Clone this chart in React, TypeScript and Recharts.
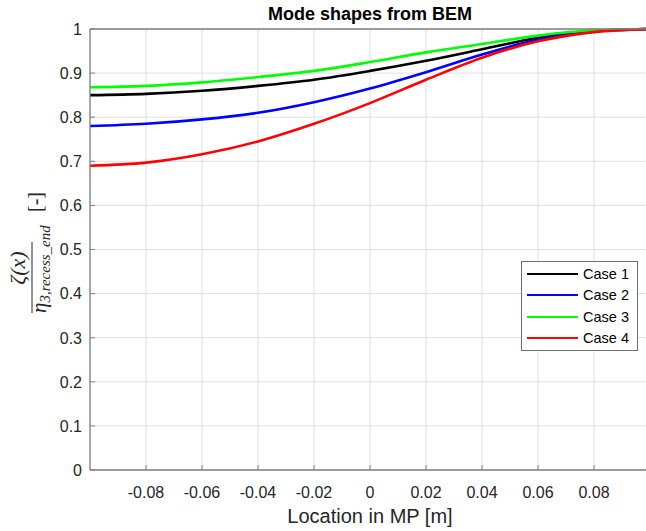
import React from 'react';
import { LineChart, Line, XAxis, YAxis, CartesianGrid, Legend } from 'recharts';

// Location along the MP [m]
const positions = [-0.1, -0.08, -0.06, -0.04, -0.02, 0, 0.02, 0.04, 0.06, 0.08, 0.1];

// Normalised mode shape per case
const case1 = [0.85, 0.853, 0.86, 0.871, 0.885, 0.905, 0.928, 0.954, 0.98, 0.996, 1.0];
const case2 = [0.78, 0.785, 0.795, 0.81, 0.834, 0.865, 0.902, 0.942, 0.976, 0.995, 1.0];
const case3 = [0.868, 0.871, 0.879, 0.891, 0.905, 0.925, 0.947, 0.966, 0.985, 0.997, 1.0];
const case4 = [0.69, 0.697, 0.716, 0.745, 0.785, 0.832, 0.885, 0.935, 0.972, 0.993, 1.0];

const xTicks = [-0.08, -0.06, -0.04, -0.02, 0, 0.02, 0.04, 0.06, 0.08];
const yTicks = [0, 0.1, 0.2, 0.3, 0.4, 0.5, 0.6, 0.7, 0.8, 0.9, 1];

const seriesKeys = ['case1', 'case2', 'case3', 'case4'];
const seriesNames = ['Case 1', 'Case 2', 'Case 3', 'Case 4'];
const seriesColors = ['#000000', '#0000ff', '#00ff00', '#ff0000'];

const data = positions.map((x, i) => ({
    x,
    case1: case1[i],
    case2: case2[i],
    case3: case3[i],
    case4: case4[i],
}));

const AXIS = '#808080';
const TEXT = '#262626';
const GRID = '#e0e0e0';
const X_GAP = 16;
const Y_GAP = 8;

const fmtX = (v: number) => (v === 0 ? '0' : v.toFixed(2));
const fmtY = (v: number) => (v === 0 || v === 1 ? String(v) : v.toFixed(1));

// bottom ticks: label outside, tick mark pointing into the plot
const BottomTick = (props: any) => {
    const { x, y, payload } = props;
    const axisY = y - X_GAP;
    return (
        <g>
            <line x1={x} x2={x} y1={axisY} y2={axisY - 5} stroke={AXIS} />
            <text x={x} y={axisY + 27.5} textAnchor="middle" fontSize={16} fill={TEXT}>
                {fmtX(payload.value)}
            </text>
        </g>
    );
};

const LeftTick = (props: any) => {
    const { x, y, payload } = props;
    const axisX = x + Y_GAP;
    return (
        <g>
            <line x1={axisX} x2={axisX + 5} y1={y} y2={y} stroke={AXIS} />
            <text x={x} y={y + 5.8} textAnchor="end" fontSize={16} fill={TEXT}>
                {fmtY(payload.value)}
            </text>
        </g>
    );
};

const LegendBox = (props: any) => {
    const { payload = [] } = props;
    return (
        <div
            style={{
                border: '1px solid #6e6e6e',
                background: '#fff',
                padding: '1.4px 6px 1.4px 5px',
                boxSizing: 'border-box',
                width: 117,
            }}
        >
            {payload.map((entry: any) => (
                <div key={entry.value} style={{ display: 'flex', alignItems: 'center', height: 21.3 }}>
                    <span
                        style={{
                            display: 'inline-block',
                            width: 51,
                            height: 0,
                            borderTop: `2.5px solid ${entry.color}`,
                            marginRight: 5,
                        }}
                    />
                    <span style={{ fontSize: 14.5, color: '#000', lineHeight: '16px' }}>{entry.value}</span>
                </div>
            ))}
        </div>
    );
};

const App = () => {
    return (
        <div
            style={{
                position: 'absolute',
                left: 0,
                top: 0,
                width: 646,
                height: 531,
                overflow: 'hidden',
                background: '#fff',
                fontFamily: '"Liberation Sans", Arial, sans-serif',
            }}
        >
            <LineChart width={660} height={531} data={data} margin={{ top: 29, right: 10, bottom: 0, left: 0 }}>
                <CartesianGrid stroke={GRID} strokeWidth={1} />
                <XAxis
                    dataKey="x"
                    type="number"
                    domain={[-0.1, 0.1]}
                    ticks={xTicks}
                    interval={0}
                    tickSize={0}
                    tickMargin={X_GAP}
                    tick={BottomTick}
                    axisLine={{ stroke: AXIS, strokeWidth: 1.3 }}
                    height={61}
                    label={{ value: 'Location in MP [m]', position: 'insideBottom', offset: 8, fontSize: 20, fill: TEXT }}
                />
                <XAxis
                    xAxisId="top"
                    orientation="top"
                    type="number"
                    domain={[-0.1, 0.1]}
                    ticks={xTicks}
                    interval={0}
                    mirror
                    tick={false}
                    tickSize={5}
                    tickLine={{ stroke: AXIS }}
                    axisLine={{ stroke: AXIS, strokeWidth: 1.3 }}
                />
                <YAxis
                    type="number"
                    domain={[0, 1]}
                    ticks={yTicks}
                    interval={0}
                    tickSize={0}
                    tickMargin={Y_GAP}
                    tick={LeftTick}
                    axisLine={{ stroke: AXIS, strokeWidth: 1.3 }}
                    width={90}
                />
                <YAxis
                    yAxisId="right"
                    orientation="right"
                    type="number"
                    domain={[0, 1]}
                    ticks={yTicks}
                    interval={0}
                    mirror
                    tick={false}
                    tickSize={5}
                    tickLine={{ stroke: AXIS }}
                    axisLine={{ stroke: AXIS, strokeWidth: 1.3 }}
                />
                {seriesKeys.map((key, i) => (
                    <Line
                        key={key}
                        dataKey={key}
                        name={seriesNames[i]}
                        type="monotone"
                        stroke={seriesColors[i]}
                        strokeWidth={2.6}
                        dot={false}
                        activeDot={false}
                        isAnimationActive={false}
                    />
                ))}
                <Legend
                    layout="vertical"
                    align="center"
                    verticalAlign="middle"
                    content={LegendBox}
                    wrapperStyle={{ left: 521, top: 261, width: 117, height: 88 }}
                />
            </LineChart>

            {/* title and the fraction-style y label */}
            <svg
                width={646}
                height={531}
                style={{ position: 'absolute', left: 0, top: 0, pointerEvents: 'none' }}
            >
                <text x={370} y={20} textAnchor="middle" fontSize={18} fontWeight="bold" fill="#000">
                    Mode shapes from BEM
                </text>
                <g transform="translate(0,250) rotate(-90)" fill={TEXT} fontFamily='"Liberation Serif", "DejaVu Serif", serif'>
                    <text x={-18} y={25} textAnchor="middle" fontSize={22} fontStyle="italic">
                        ζ(x)
                    </text>
                    <line x1={-63} x2={8} y1={32} y2={32} stroke={TEXT} strokeWidth={1} />
                    <text x={-63} y={46} fontSize={21} fontStyle="italic">
                        η
                        <tspan fontSize={15} dy={4}>3,recess_end</tspan>
                    </text>
                    <text x={38} y={42} fontSize={20}>
                        [-]
                    </text>
                </g>
            </svg>
        </div>
    );
};

export default App;
